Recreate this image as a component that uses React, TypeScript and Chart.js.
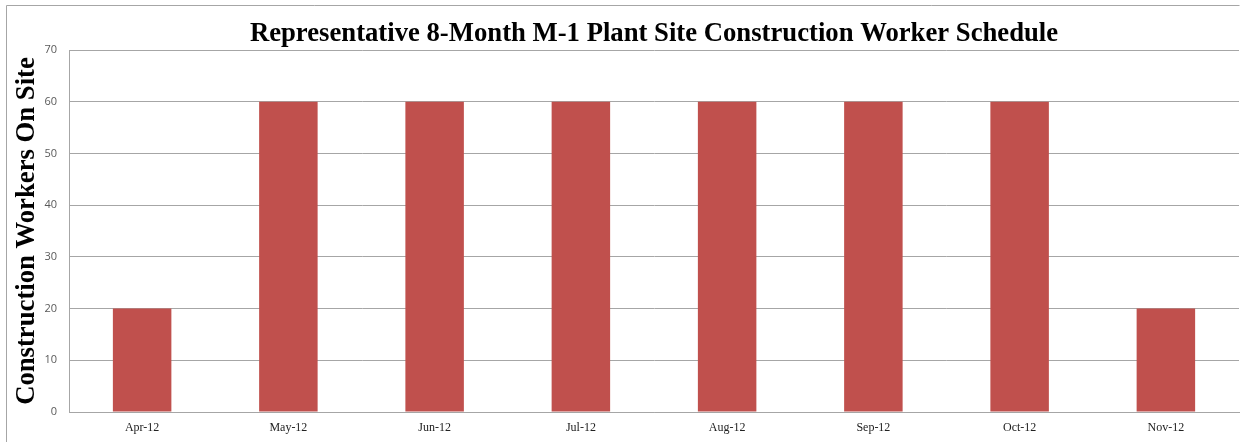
import React, { useEffect, useRef } from "react";
import { Chart, registerables } from "chart.js";

Chart.register(...registerables);

const categories = ["Apr-12", "May-12", "Jun-12", "Jul-12", "Aug-12", "Sep-12", "Oct-12", "Nov-12"];
const workers = [20, 60, 60, 60, 60, 60, 60, 20];
const yTicks = [0, 10, 20, 30, 40, 50, 60, 70];
const titleText = "Representative 8-Month M-1 Plant Site Construction Worker Schedule";
const yTitleText = "Construction Workers On Site";

const framePlugin = {
  id: "frame",
  beforeDraw(chart: any) {
    const ctx = chart.ctx;
    ctx.save();
    ctx.strokeStyle = "#a6a6a6";
    ctx.lineWidth = 1;
    ctx.beginPath();
    ctx.moveTo(6.5, 442);
    ctx.lineTo(6.5, 5.5);
    ctx.lineTo(1239.5, 5.5);
    ctx.stroke();
    ctx.restore();
  },
};

export default function App() {
  const ref = useRef<HTMLCanvasElement | null>(null);
  useEffect(() => {
    document.body.style.margin = "0";
    const chart = new Chart(ref.current as HTMLCanvasElement, {
      type: "bar",
      data: {
        labels: categories,
        datasets: [
          {
            data: workers,
            backgroundColor: "#c0504d",
            borderWidth: 0,
            barPercentage: 0.4,
            categoryPercentage: 1,
          },
        ],
      },
      plugins: [framePlugin],
      options: {
        animation: false,
        responsive: true,
        maintainAspectRatio: false,
        layout: { padding: { left: 0, right: 10, top: 0, bottom: 0 } },
        plugins: {
          legend: { display: false },
          tooltip: { enabled: false },
          title: {
            display: true,
            fullSize: false,
            text: titleText,
            color: "#000",
            font: { family: "'Liberation Serif', 'Times New Roman', serif", size: 26.7, weight: "bold", lineHeight: 1.2 },
            padding: { top: 18, bottom: 0 },
          },
        },
        scales: {
          x: {
            grid: { display: false, drawTicks: false },
            border: { display: true, color: "#a6a6a6", width: 1 },
            ticks: {
              color: "#222",
              padding: 9,
              font: { family: "'Liberation Serif', 'Times New Roman', serif", size: 12 },
              maxRotation: 0,
            },
            afterFit(scale: any) {
              scale.height = 30;
            },
          },
          y: {
            min: 0,
            max: 70,
            afterBuildTicks(scale: any) {
              scale.ticks = yTicks.map((v) => ({ value: v }));
            },
            grid: { color: "#a6a6a6", lineWidth: 1, drawTicks: false },
            border: { display: true, color: "#a6a6a6", width: 1 },
            ticks: {
              color: "#595959",
              padding: 12,
              font: { family: "'Open Sans', 'Liberation Sans', sans-serif", size: 11 },
            },
            title: {
              display: true,
              text: yTitleText,
              color: "#000",
              font: { family: "'Liberation Serif', 'Times New Roman', serif", size: 26.7, weight: "bold", lineHeight: 1.2 },
              padding: { top: 11, bottom: 0 },
            },
            afterFit(scale: any) {
              scale.width = 69;
            },
          },
        },
      },
    } as any);
    return () => chart.destroy();
  }, []);
  return (
    <div style={{ position: "fixed", left: 0, top: 0, width: 1249, height: 442, background: "#fff" }}>
      <canvas ref={ref} />
    </div>
  );
}
